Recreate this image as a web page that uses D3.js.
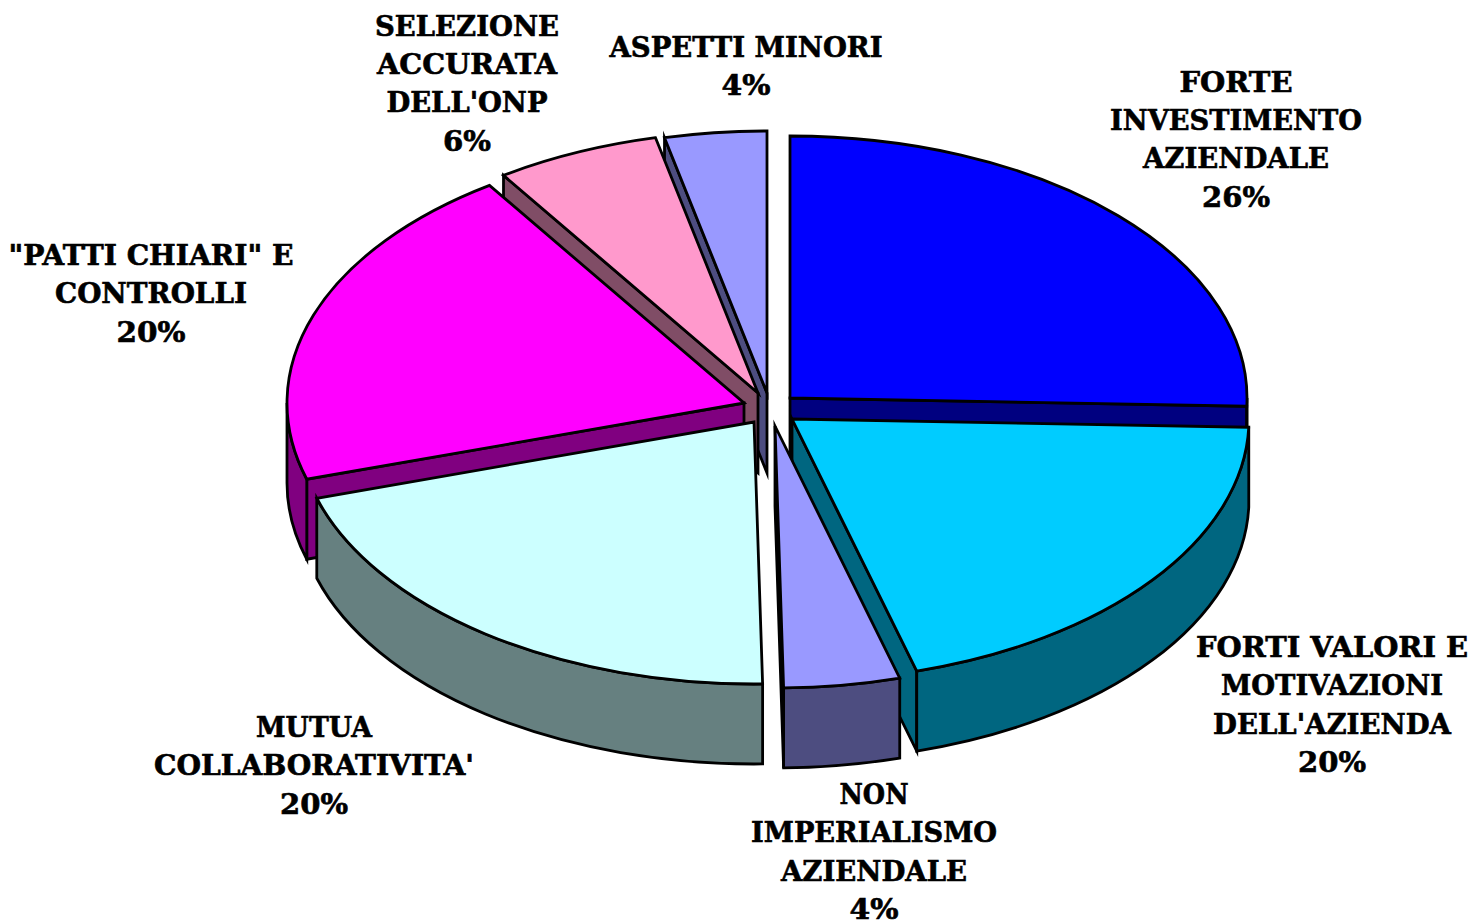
<!DOCTYPE html>
<html><head><meta charset="utf-8">
<script src="https://cdn.jsdelivr.net/npm/d3@7"></script>
<style>html,body{margin:0;background:#fff;overflow:hidden}svg{display:block}</style>
</head><body><svg id="c" width="1472" height="921"></svg>
<script>
// Data
const categories = ["FORTE INVESTIMENTO AZIENDALE","FORTI VALORI E MOTIVAZIONI DELL'AZIENDA","NON IMPERIALISMO AZIENDALE","MUTUA COLLABORATIVITA'","\"PATTI CHIARI\" E CONTROLLI","SELEZIONE ACCURATA DELL'ONP","ASPETTI MINORI"];
const values = [25.5,20.1,4.1,20.6,20.3,5.8,3.6];
const percentLabels = ["26%","20%","4%","20%","20%","6%","4%"];
const labelLines = [
  ["FORTE","INVESTIMENTO","AZIENDALE"],
  ["FORTI VALORI E","MOTIVAZIONI","DELL'AZIENDA"],
  ["NON","IMPERIALISMO","AZIENDALE"],
  ["MUTUA","COLLABORATIVITA'"],
  ["\"PATTI CHIARI\" E","CONTROLLI"],
  ["SELEZIONE","ACCURATA","DELL'ONP"],
  ["ASPETTI MINORI"]
];
// Styles and layout
const lineWidths = [
  [113,252,186,68],[272,222,238,68],[69,246,186,49],[116,320,68],[285,192,69],[184,180,161,48],[273,49]
];
const topColors  = ["#0000FF","#00CCFF","#9999FF","#CCFFFF","#FF00FF","#FF99CC","#9999FF"];
const sideColors = ["#000080","#006680","#4D4D80","#668080","#800080","#804D66","#4D4D80"];
const apexes = [[790,398],[792,419],[775,426],[754,422],[744,403],[758,393],[767,393]];
const labelAnchors = [[1236,91.5],[1332,657],[874,804],[314,737],[151,265],[467,35.5],[746,57]];
const drawOrder = [6,5,0,4,1,3,2];
const RX = 457, RY = 262, DEPTH = 80, LINE = 38.4, SW = 2.8;

const svg = d3.select("#c");
const arcs = d3.pie().sort(null).value(d => d)(values);
const xs = d3.scaleLinear().domain([-1,1]).range([-RX,RX]);
const ys = d3.scaleLinear().domain([-1,1]).range([RY,-RY]);
const pt = (i,a) => [apexes[i][0]+xs(Math.sin(a)), apexes[i][1]+ys(Math.cos(a))];
const down = p => [p[0],p[1]+DEPTH];
const TAU = Math.PI*2;
const strokeIt = s => s.attr("stroke","#000").attr("stroke-width",SW).attr("stroke-linejoin","miter").attr("stroke-miterlimit",10);

function poly(pts,i){
  strokeIt(svg.append("path").attr("d","M"+pts.map(p=>p.join(",")).join("L")+"Z").attr("fill",sideColors[i]));
}
drawOrder.forEach(i=>{
  const {startAngle:a0,endAngle:a1} = arcs[i];
  const ap = apexes[i];
  // radial side faces that look toward the viewer
  if(a0>Math.PI && a0<TAU){ const p=pt(i,a0); poly([ap,p,down(p),down(ap)],i); }
  if(a1>0 && a1<Math.PI){ const p=pt(i,a1); poly([ap,p,down(p),down(ap)],i); }
  // outer rim
  const lo=Math.max(a0,Math.PI/2), hi=Math.min(a1,Math.PI*1.5);
  if(hi>lo){
    const p=pt(i,lo), q=pt(i,hi), q2=down(q), p2=down(p);
    strokeIt(svg.append("path")
      .attr("d",`M${p}A${RX},${RY} 0 0 1 ${q}L${q2}A${RX},${RY} 0 0 0 ${p2}Z`)
      .attr("fill",sideColors[i]));
  }
  // top face
  const s=pt(i,a0), e=pt(i,a1), large=(a1-a0)>Math.PI?1:0;
  strokeIt(svg.append("path")
    .attr("d",`M${ap}L${s}A${RX},${RY} 0 ${large} 1 ${e}Z`)
    .attr("fill",topColors[i]));
});
// labels
labelLines.forEach((lines,i)=>{
  lines.concat(percentLabels[i]).forEach((s,k)=>{
    svg.append("text").attr("text-anchor","middle")
      .attr("font-family","'DejaVu Serif',serif").attr("font-weight","bold")
      .attr("font-size",27).attr("fill","#000").attr("stroke","#000").attr("stroke-width",0.6)
      .attr("x",labelAnchors[i][0]).attr("y",labelAnchors[i][1]+k*LINE)
      .attr("textLength",lineWidths[i][k]).attr("lengthAdjust","spacingAndGlyphs")
      .text(s);
  });
});
</script></body></html>
